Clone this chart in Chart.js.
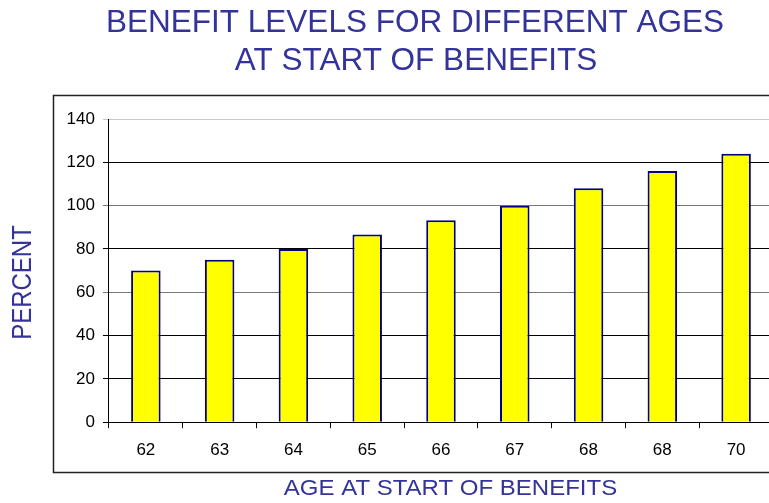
<!DOCTYPE html>
<html>
<head>
<meta charset="utf-8">
<script src="https://cdn.jsdelivr.net/npm/chart.js@4/dist/chart.umd.min.js"></script>
<style>
  html, body { margin: 0; padding: 0; overflow: hidden; background: #fff; }
  #wrap { width: 830px; height: 503px; }
</style>
</head>
<body>
<div id="wrap"><canvas id="chart" width="830" height="503"></canvas></div>
<script>
// data
const ages = ['62', '63', '64', '65', '66', '67', '68', '68', '70'];
const percent = [70, 75, 80, 86.7, 93.3, 100, 108, 116, 124];
const titleLines = ['BENEFIT LEVELS FOR DIFFERENT AGES', 'AT START OF BENEFITS'];
const xTitle = 'AGE AT START OF BENEFITS';
const yTitle = 'PERCENT';

const FONT = '"Liberation Sans", Arial, Helvetica, sans-serif';
const BLUE = '#333399';

// grid colours per y tick (0..140), some lines come out lighter in the original
const gridColors = ['#000', '#000', '#000', '#777', '#000', '#777', '#000', '#c8c8c8'];

// frame, heading and axis titles sit on the slide, not centred on the plot,
// so they are drawn here instead of through the title options
const slidePlugin = {
  id: 'slide',
  beforeDraw(chart) {
    const ctx = chart.ctx;
    ctx.save();
    ctx.strokeStyle = '#222';
    ctx.lineWidth = 1.5;
    ctx.strokeRect(53.5, 95.5, 724, 377);

    ctx.fillStyle = BLUE;
    ctx.textAlign = 'center';
    ctx.textBaseline = 'alphabetic';
    ctx.font = '31.5px ' + FONT;
    ctx.fillText(titleLines[0], 415, 32);
    ctx.fillText(titleLines[1], 416, 70);

    // x axis title
    ctx.save();
    ctx.translate(450.5, 495);
    ctx.scale(1, 0.93);
    ctx.font = '24px ' + FONT;
    ctx.fillText(xTitle, 0, 0);
    ctx.restore();

    // y axis title, rotated
    ctx.save();
    ctx.translate(21.8, 282.5);
    ctx.rotate(-Math.PI / 2);
    ctx.scale(1, 1.16);
    ctx.font = '24px ' + FONT;
    ctx.textBaseline = 'middle';
    ctx.fillText(yTitle, 0, 1);
    ctx.restore();

    ctx.restore();
  }
};

const config = {
  type: 'bar',
  data: {
    labels: ages,
    datasets: [{
      data: percent,
      backgroundColor: '#ffff00',
      borderColor: '#000080',
      borderWidth: 2,
      barPercentage: 0.4,
      categoryPercentage: 1
    }]
  },
  options: {
    responsive: false,
    animation: false,
    layout: { padding: { top: 119, left: 58.6, right: 57, bottom: 30.4 } },
    plugins: {
      legend: { display: false },
      tooltip: { enabled: false },
      title: { display: false }
    },
    scales: {
      x: {
        grid: {
          offset: true,
          drawOnChartArea: false,
          tickLength: 6,
          tickColor: '#000'
        },
        border: { color: '#000', width: 1 },
        ticks: { color: '#000', padding: 12, font: { family: FONT, size: 17 } }
      },
      y: {
        min: 0,
        max: 140,
        ticks: { stepSize: 20, color: '#000', padding: 8, font: { family: FONT, size: 17 } },
        grid: {
          tickLength: 6,
          color: c => gridColors[c.index] || '#000'
        },
        border: { color: '#000', width: 1 }
      }
    }
  },
  plugins: [slidePlugin]
};

new Chart(document.getElementById('chart'), config);
</script>
</body>
</html>
